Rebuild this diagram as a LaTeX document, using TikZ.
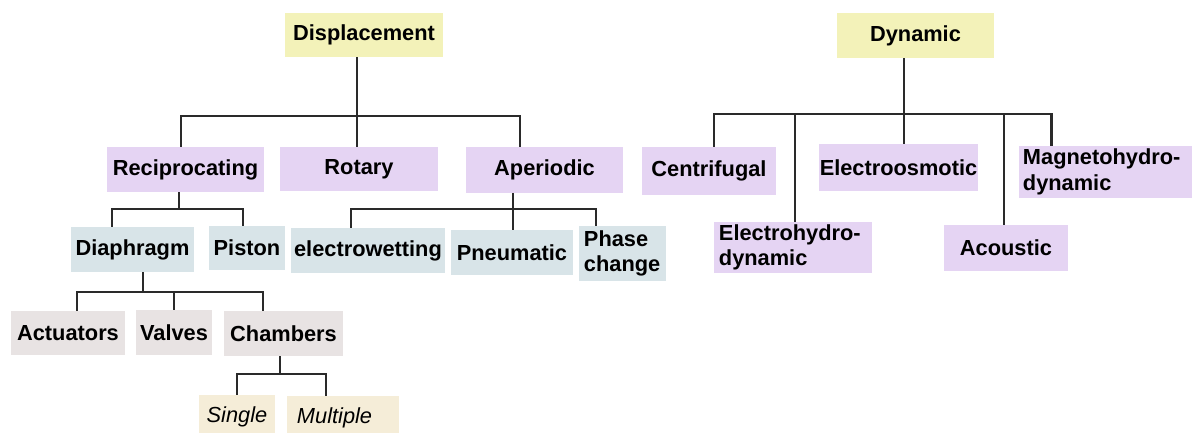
\documentclass[tikz,border=0pt]{standalone}
\usepackage{fontspec}
\setmainfont{Liberation Sans}

\definecolor{topyellow}{HTML}{F3F2B9}
\definecolor{kindpurple}{HTML}{E5D4F3}
\definecolor{subblue}{HTML}{D8E4E8}
\definecolor{partgrey}{HTML}{E8E3E3}
\definecolor{leafcream}{HTML}{F5EDD8}
\definecolor{linegray}{HTML}{2A2A2A}

\tikzset{
    block/.style={inner sep=0pt, align=center, font=\bfseries\fontsize{15.5}{18}\selectfont},
    wh/.style 2 args={minimum width=#1, minimum height=#2},
    leaf/.style={block, fill=leafcream, font=\mdseries\itshape\fontsize{15.5}{18}\selectfont},
    link/.style={draw=linegray, line width=1.8pt},
}

\begin{document}
\begin{tikzpicture}[x=0.025cm, y=-0.025cm]
    \useasboundingbox (0,0) rectangle (1192,433);
    \clip (0,0) rectangle (1192,433);

    % displacement pumps
    \node[block, fill=topyellow, wh={3.95cm}{1.1cm}] (disp) at (364,35) {Displacement};
    \node[block, fill=kindpurple, wh={3.925cm}{1.125cm}] (recip) at (185.5,169.5) {Reciprocating};
    \node[block, fill=kindpurple, wh={3.95cm}{1.1cm}] (rotary) at (359,169) {Rotary};
    \node[block, fill=kindpurple, wh={3.925cm}{1.125cm}] (aper) at (544.5,170) {Aperiodic};

    \node[block, fill=subblue, wh={3.075cm}{1.125cm}] (diaph) at (132.5,249.5) {Diaphragm};
    \node[block, fill=subblue, wh={1.9cm}{1.1cm}] (piston) at (247,248) {Piston};
    \node[block, fill=subblue, wh={3.85cm}{1.125cm}] (ewet) at (368,250.5) {electrowetting};
    \node[block, fill=subblue, wh={3.05cm}{1.125cm}] (pneu) at (512,252.5) {Pneumatic};
    \node[block, fill=subblue, wh={2.175cm}{1.375cm}, text width=1.925cm, align=left] (phase) at (622.5,253.5) {Phase\\change};

    \node[block, fill=partgrey, wh={2.85cm}{1.1cm}] (act) at (68,333) {Actuators};
    \node[block, fill=partgrey, wh={1.9cm}{1.125cm}] (valves) at (174,332.5) {Valves};
    \node[block, fill=partgrey, wh={2.975cm}{1.125cm}] (chamb) at (283.5,333.5) {Chambers};

    \node[leaf, wh={1.9cm}{1.1cm}] (single) at (237,417) {Single};
    \node[leaf, wh={2.8cm}{1.1cm}, text width=2.3cm, align=left] (multi) at (343,418) {Multiple};

    % dynamic pumps
    \node[block, fill=topyellow, wh={3.925cm}{1.125cm}] (dyn) at (915.5,35.5) {Dynamic};
    \node[block, fill=kindpurple, wh={3.35cm}{1.2cm}] (centri) at (709,171) {Centrifugal};
    \node[block, fill=kindpurple, wh={3.975cm}{1.175cm}] (eosm) at (898.5,167.5) {Electroosmotic};
    \node[block, fill=kindpurple, wh={4.325cm}{1.3cm}, text width=4.125cm, align=left] (mhd) at (1105.5,172) {Magnetohydro-\\dynamic};
    \node[block, fill=kindpurple, wh={3.95cm}{1.275cm}, text width=3.7cm, align=left] (ehd) at (793,247.5) {Electrohydro-\\dynamic};
    \node[block, fill=kindpurple, wh={3.1cm}{1.15cm}] (acou) at (1006,248) {Acoustic};

    % junctions
    \coordinate (dispbar) at (357,116);
    \coordinate (recipbar) at (179,209);
    \coordinate (aperbar) at (513,209);
    \coordinate (diaphbar) at (143,292);
    \coordinate (chambbar) at (280,374);
    \coordinate (dynbar) at (904,114);

    \draw[link] (disp.south -| dispbar) -- (dispbar);
    \draw[link] (dispbar) -| ([xshift=-0.11cm]recip.north);
    \draw[link] (dispbar) -| (rotary.north -| dispbar);
    \draw[link] (dispbar) -| ([xshift=-0.61cm]aper.north);

    \draw[link] (recip.south -| recipbar) -- (recipbar);
    \draw[link] (recipbar) -| ([xshift=-0.51cm]diaph.north);
    \draw[link] (recipbar) -| ([xshift=-0.1cm]piston.north);

    \draw[link] (aper.south -| aperbar) -- (aperbar);
    \draw[link] (aperbar) -| ([xshift=-0.43cm]ewet.north);
    \draw[link] (aperbar) -- (pneu.north -| aperbar);
    \draw[link] (aperbar) -| ([xshift=-0.66cm]phase.north);

    \draw[link] (diaph.south -| diaphbar) -- (diaphbar);
    \draw[link] (diaphbar) -| ([xshift=0.23cm]act.north);
    \draw[link] (diaphbar) -| (valves.north);
    \draw[link] (diaphbar) -| ([xshift=-0.51cm]chamb.north);

    \draw[link] (chamb.south -| chambbar) -- (chambbar);
    \draw[link] (chambbar) -| (single.north);
    \draw[link] (chambbar) -| ([xshift=-0.43cm]multi.north);

    \draw[link] (dyn.south -| dynbar) -- (dynbar);
    \draw[link] (dynbar) -| ([xshift=0.13cm]centri.north);
    \draw[link] (dynbar) -| ([xshift=0.05cm]ehd.north);
    \draw[link] (dynbar) -- (eosm.north -| dynbar);
    \draw[link] (dynbar) -| ([xshift=-0.05cm]acou.north);
    \draw[link] (dynbar) -| ([xshift=-1.35cm]mhd.north);
\end{tikzpicture}
\end{document}
